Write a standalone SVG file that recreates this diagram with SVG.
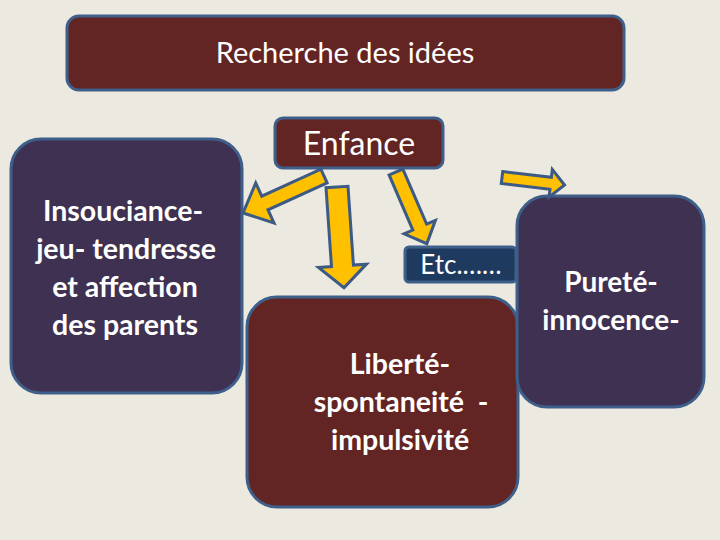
<svg xmlns="http://www.w3.org/2000/svg" width="720" height="540" viewBox="0 0 720 540">
<style>
.box{stroke:#3E5F8A;stroke-width:3}
.red{fill:#632523}
.pur{fill:#3F3151}
.navy{fill:#1F3A5F}
.arr{fill:#FFC000;stroke:#3C5A84;stroke-width:3;stroke-linejoin:miter}
text{font-family:Lato,"Open Sans","Liberation Sans",sans-serif;fill:#FFFFFF;text-anchor:middle}
.b{font-weight:bold}
</style>
<rect x="0" y="0" width="720" height="540" fill="#ECE9E0"/>
<g id="recherche">
<rect class="box red" x="67" y="16" width="557" height="74" rx="12"/>
<text x="345" y="63" font-size="29">Recherche des idées</text>
</g>
<g id="enfance">
<rect class="box red" x="275" y="118" width="168" height="50" rx="8"/>
<text x="359" y="155" font-size="32">Enfance</text>
</g>
<g id="insouciance">
<rect class="box pur" x="11" y="139" width="231" height="254" rx="30"/>
<text class="b" font-size="28.5"><tspan x="123" y="221">Insouciance-</tspan><tspan x="126" y="259">jeu- tendresse</tspan><tspan x="125" y="297">et affection</tspan><tspan x="125" y="335">des parents</tspan></text>
</g>
<g id="liberte">
<rect class="box red" x="247" y="297" width="271" height="210" rx="30"/>
<text class="b" font-size="28.5"><tspan x="400" y="374">Liberté-</tspan><tspan x="401" y="412">spontaneité&#160;&#160;-</tspan><tspan x="400" y="450">impulsivité</tspan></text>
</g>
<g id="etc">
<rect class="box navy" x="405" y="247" width="111" height="35" rx="4"/>
<text x="461" y="274" font-size="26">Etc.……</text>
</g>
<g id="purete">
<rect class="box pur" x="517" y="196" width="187" height="211" rx="30"/>
<text class="b" font-size="28"><tspan x="611" y="292">Pureté-</tspan><tspan x="611" y="330">innocence-</tspan></text>
</g>
<g id="connectors">
<polygon class="arr" transform="translate(324,176) rotate(155.45)" points="0,-7.5 65,-7.5 65,-22 89,0 65,22 65,7.5 0,7.5"/>
<polygon class="arr" transform="translate(337,187) rotate(86.04)" points="0,-11 79,-11 79,-24 101,0 79,24 79,11 0,11"/>
<polygon class="arr" transform="translate(396,172) rotate(66.7)" points="0,-7.5 60,-7.5 60,-17 78,0 60,17 60,7.5 0,7.5"/>
<polygon class="arr" transform="translate(502,177.5) rotate(6.8)" points="0,-6 49,-6 49,-14 63,0 49,14 49,6 0,6"/>
</g>
</svg>
